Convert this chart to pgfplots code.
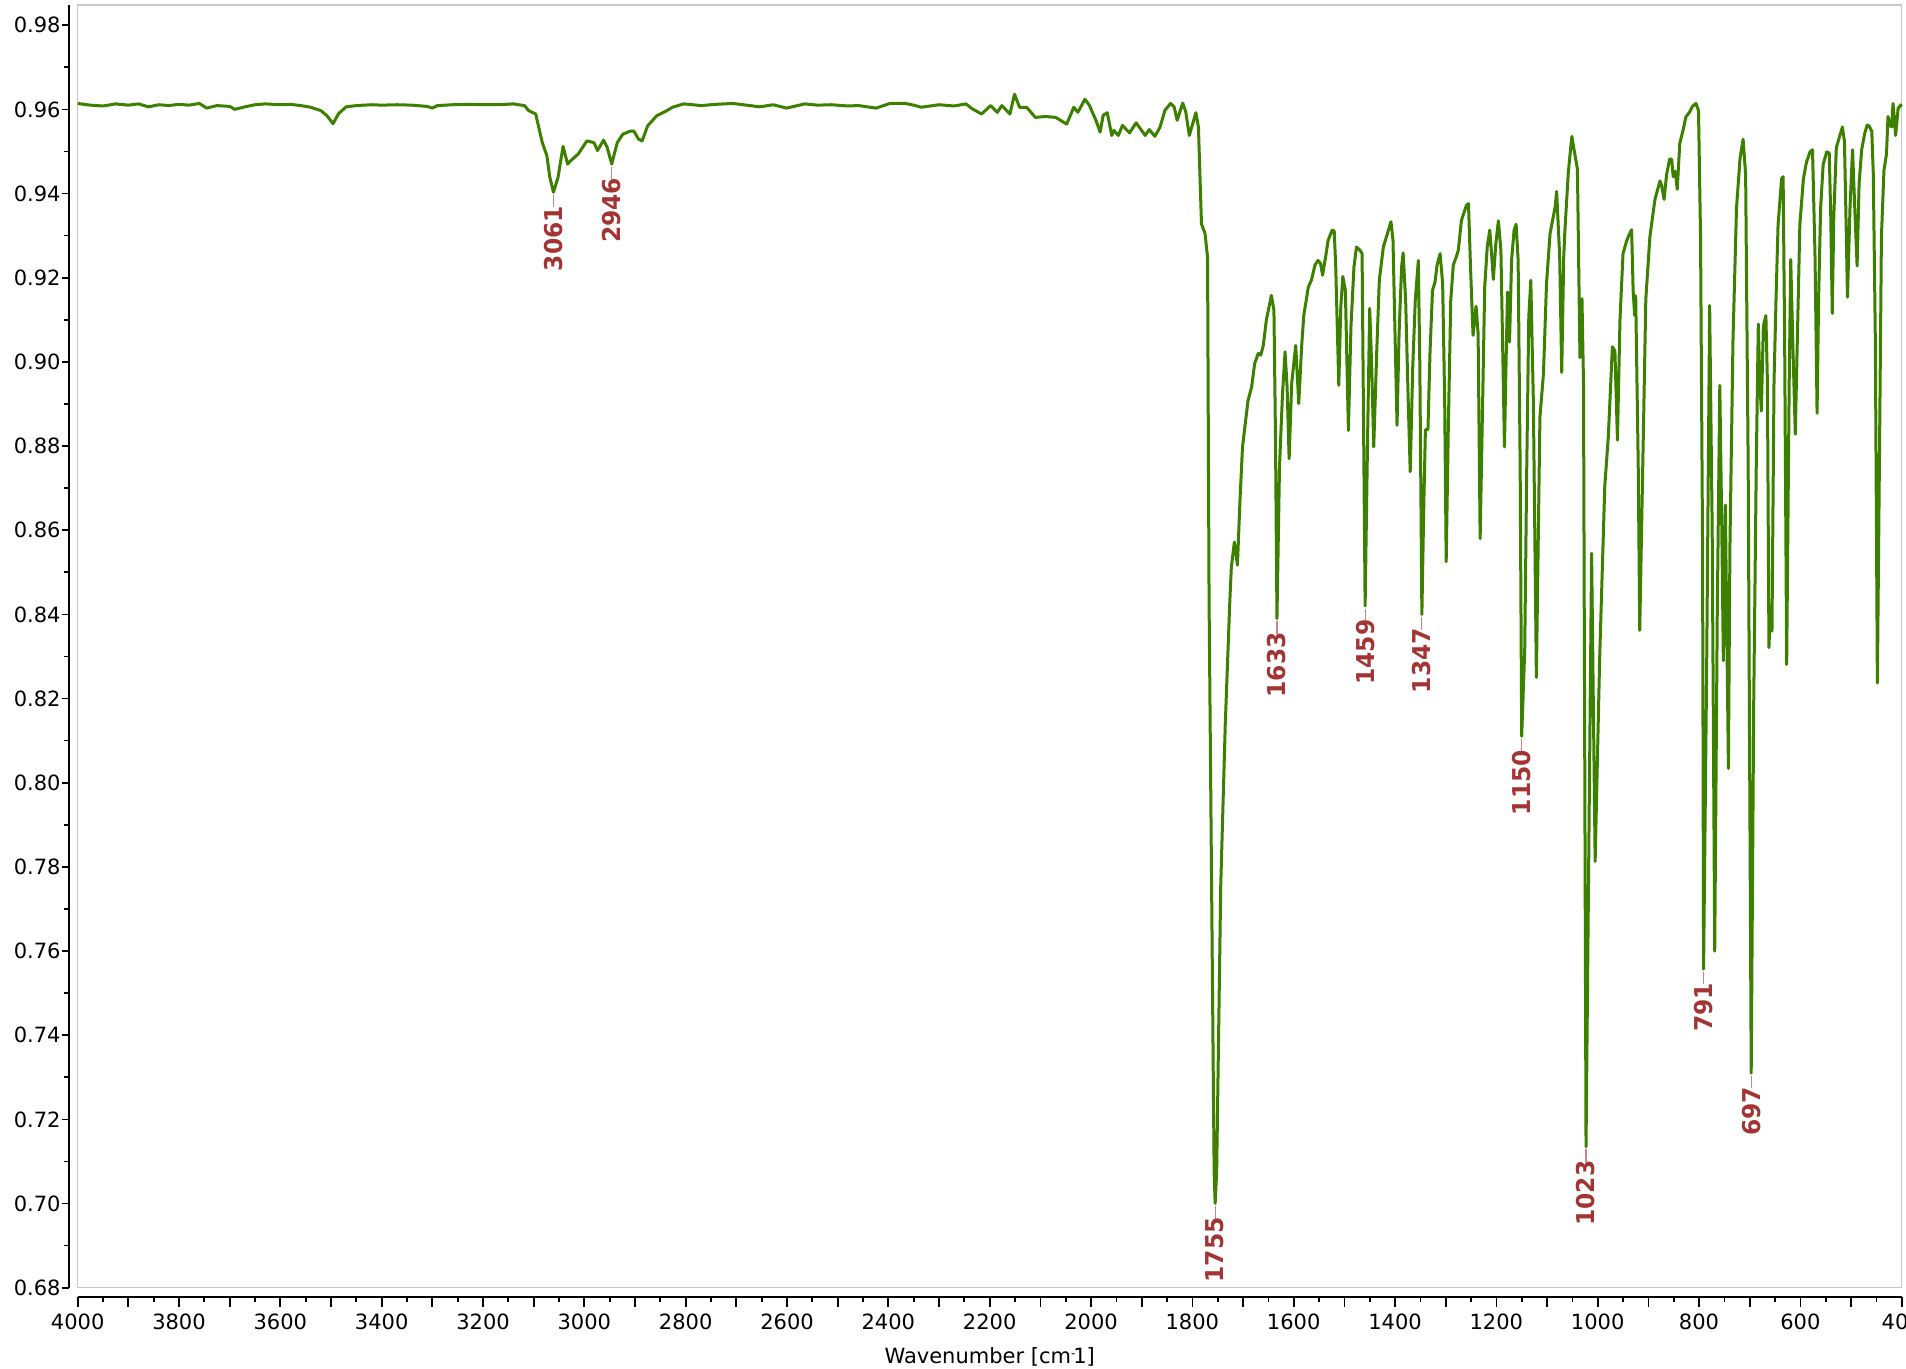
\documentclass[border=0pt]{standalone}
\usepackage{fontspec}
\setmainfont{DejaVu Sans}
\newfontfamily\peakfont[FakeStretch=0.95]{DejaVu Sans}
\usepackage{pgfplots}
\pgfplotsset{compat=1.18}

\definecolor{irgreen}{RGB}{60,128,0}
\definecolor{peakred}{RGB}{163,52,52}
\definecolor{framegray}{RGB}{200,200,200}

% short connector from a peak down to its label
\pgfdeclareplotmark{peaktick}{%
  \pgfpathmoveto{\pgfqpoint{0pt}{-1.3pt}}%
  \pgfpathlineto{\pgfqpoint{0pt}{-7.6pt}}%
  \pgfusepathqstroke}

\pgfplotstableread{
wn T
4000 0.9614
3975 0.9610
3950 0.9608
3925 0.9613
3900 0.9610
3880 0.9613
3860 0.9606
3840 0.9611
3820 0.9609
3800 0.9612
3780 0.9610
3760 0.9614
3745 0.9603
3725 0.9609
3700 0.9607
3690 0.9600
3670 0.9606
3650 0.9611
3630 0.9613
3600 0.9611
3580 0.9612
3560 0.9609
3540 0.9605
3520 0.9597
3508 0.9585
3496 0.9566
3485 0.9590
3470 0.9606
3450 0.9609
3420 0.9611
3400 0.9610
3370 0.9611
3340 0.9610
3310 0.9607
3300 0.9603
3290 0.9609
3260 0.9611
3230 0.9612
3200 0.9611
3167 0.9611
3141 0.9613
3118 0.9609
3110 0.9597
3096 0.9589
3083 0.9521
3074 0.9490
3068 0.9438
3061 0.9403
3052 0.9438
3042 0.9512
3033 0.9470
3026 0.9479
3012 0.9494
2995 0.9525
2981 0.9521
2974 0.9502
2962 0.9527
2955 0.9510
2946 0.9470
2935 0.9521
2924 0.9541
2910 0.9548
2902 0.9548
2893 0.9529
2886 0.9525
2875 0.9561
2857 0.9585
2840 0.9595
2826 0.9605
2804 0.9613
2769 0.9609
2740 0.9612
2707 0.9614
2680 0.9610
2654 0.9606
2627 0.9611
2601 0.9603
2565 0.9613
2540 0.9610
2512 0.9611
2480 0.9608
2459 0.9609
2424 0.9603
2397 0.9614
2366 0.9614
2350 0.9610
2335 0.9605
2300 0.9611
2270 0.9608
2247 0.9613
2234 0.9601
2216 0.9589
2198 0.9609
2185 0.9593
2176 0.9609
2160 0.9589
2151 0.9636
2141 0.9605
2127 0.9605
2110 0.9581
2090 0.9583
2070 0.9581
2048 0.9565
2034 0.9605
2026 0.9593
2012 0.9624
2003 0.9609
1990 0.9573
1982 0.9546
1976 0.9586
1968 0.9592
1959 0.9538
1955 0.9550
1946 0.9538
1938 0.9562
1924 0.9544
1911 0.9568
1893 0.9538
1885 0.9552
1874 0.9536
1864 0.9557
1854 0.9598
1843 0.9614
1836 0.9606
1830 0.9574
1819 0.9615
1813 0.9594
1806 0.9538
1793 0.9592
1788 0.9558
1782 0.9328
1775 0.9305
1770 0.9249
1767 0.8433
1762 0.7754
1757 0.7076
1755 0.7000
1752 0.7076
1744 0.7754
1735 0.8140
1726 0.8433
1723 0.8513
1717 0.8572
1711 0.8517
1706 0.8671
1701 0.8798
1694 0.8869
1690 0.8909
1683 0.8940
1677 0.8996
1670 0.9020
1665 0.9016
1660 0.9039
1654 0.9099
1644 0.9158
1639 0.9123
1636 0.8830
1633 0.8390
1628 0.8750
1622 0.8925
1617 0.9024
1613 0.8940
1609 0.8770
1604 0.8948
1596 0.9039
1590 0.8901
1584 0.9043
1580 0.9111
1571 0.9178
1565 0.9194
1558 0.9230
1552 0.9241
1547 0.9234
1543 0.9206
1536 0.9257
1532 0.9289
1524 0.9313
1520 0.9311
1517 0.9226
1511 0.8944
1507 0.9131
1503 0.9203
1498 0.9170
1492 0.8837
1487 0.9083
1481 0.9226
1476 0.9273
1469 0.9265
1465 0.9257
1459 0.8420
1454 0.8830
1450 0.9127
1446 0.8988
1442 0.8798
1436 0.9028
1431 0.9194
1423 0.9273
1415 0.9305
1408 0.9333
1404 0.9289
1400 0.9067
1396 0.8849
1392 0.9067
1387 0.9226
1384 0.9259
1379 0.9146
1374 0.8909
1370 0.8739
1365 0.8988
1360 0.9146
1354 0.9241
1351 0.8988
1347 0.8400
1343 0.8671
1340 0.8839
1335 0.8839
1331 0.9020
1326 0.9170
1321 0.9190
1317 0.9230
1311 0.9257
1306 0.9186
1302 0.8909
1299 0.8525
1295 0.8830
1290 0.9146
1285 0.9230
1279 0.9250
1275 0.9265
1269 0.9336
1259 0.9372
1255 0.9376
1251 0.9226
1246 0.9063
1240 0.9132
1236 0.9067
1232 0.8580
1227 0.8909
1223 0.9178
1218 0.9273
1213 0.9313
1209 0.9250
1206 0.9196
1201 0.9281
1196 0.9335
1191 0.9265
1188 0.9067
1184 0.8798
1181 0.8988
1178 0.9166
1176 0.9067
1174 0.9047
1170 0.9241
1165 0.9313
1161 0.9327
1157 0.9241
1153 0.8750
1150 0.8110
1144 0.8315
1140 0.8750
1136 0.9107
1132 0.9194
1127 0.8909
1121 0.8250
1114 0.8869
1107 0.8972
1101 0.9186
1094 0.9305
1084 0.9368
1081 0.9405
1075 0.9250
1071 0.8975
1067 0.9250
1065 0.9305
1058 0.9450
1051 0.9536
1046 0.9500
1040 0.9458
1035 0.9010
1031 0.9150
1028 0.8950
1023 0.7135
1012 0.8545
1005 0.7813
996 0.8300
986 0.8705
979 0.8823
971 0.9036
966 0.9026
961 0.8814
956 0.9100
950 0.9257
943 0.9287
938 0.9302
933 0.9314
930 0.9168
927 0.9110
925 0.9157
920 0.8755
917 0.8362
911 0.8755
905 0.9149
897 0.9297
887 0.9386
877 0.9430
874 0.9420
869 0.9386
864 0.9445
858 0.9482
854 0.9482
851 0.9440
847 0.9453
843 0.9410
838 0.9519
831 0.9553
826 0.9582
819 0.9593
813 0.9607
806 0.9614
801 0.9597
797 0.9297
793 0.8557
791 0.7557
785 0.8261
779 0.9134
774 0.8600
769 0.7600
764 0.8400
759 0.8944
755 0.8600
752 0.8290
748 0.8660
742 0.8034
739 0.8560
733 0.9050
726 0.9366
719 0.9484
713 0.9529
708 0.9445
703 0.8755
697 0.7310
692 0.8195
687 0.8755
683 0.9090
680 0.8952
677 0.8883
673 0.9085
668 0.9110
665 0.8952
662 0.8321
659 0.8419
656 0.8360
652 0.8952
648 0.9149
644 0.9326
637 0.9435
634 0.9440
631 0.9050
627 0.8281
622 0.8952
619 0.9243
615 0.9050
610 0.8828
606 0.9050
601 0.9326
594 0.9435
588 0.9474
581 0.9499
576 0.9504
571 0.9248
567 0.8878
564 0.9149
560 0.9366
555 0.9469
548 0.9499
543 0.9496
540 0.9346
537 0.9115
534 0.9346
529 0.9509
522 0.9538
517 0.9558
513 0.9524
510 0.9346
507 0.9154
502 0.9366
497 0.9504
492 0.9346
488 0.9228
484 0.9425
479 0.9504
473 0.9543
468 0.9563
464 0.9560
459 0.9548
456 0.9445
452 0.9050
448 0.8237
444 0.8755
440 0.9297
435 0.9455
430 0.9494
427 0.9583
423 0.9563
420 0.9558
417 0.9614
412 0.9538
407 0.9603
400 0.9612
}\spectrum

\pgfplotstableread{
wn T lab
3061 0.9403 3061
2946 0.9470 2946
1755 0.7000 1755
1633 0.8390 1633
1459 0.8420 1459
1347 0.8400 1347
1150 0.8110 1150
1023 0.7135 1023
791 0.7557 791
697 0.7310 697
}\peaks

\pgfplotsset{
  irbase/.style={
    width=912pt, height=641.35pt, scale only axis,
    x dir=reverse, xmin=400, xmax=4000, ymin=0.68, ymax=0.9848,
    tick label style={font=\fontsize{10.5}{12}\selectfont},
    label style={font=\fontsize{10.5}{12}\selectfont},
    /pgf/number format/assume math mode=true,
  },
}

\begin{document}
\begin{tikzpicture}
% plot area: light frame, spectrum and peak labels
\begin{axis}[irbase, xtick=\empty, ytick=\empty, clip=false,
    axis line style={framegray, line width=0.75pt}]
\addplot[irgreen, line width=1.5pt, line join=round] table[x=wn, y=T] {\spectrum};
\addplot[only marks, mark=peaktick,
    mark options={draw=peakred!60, line width=0.6pt},
    point meta=explicit symbolic, nodes near coords,
    every node near coord/.append style={rotate=90, anchor=east,
      inner xsep=6.6pt, inner ysep=0pt, text=peakred,
      font=\peakfont\bfseries\fontsize{12.3}{14}\selectfont}]
    table[x=wn, y=T, meta=lab] {\peaks};
\coordinate (bl) at (rel axis cs:0,0);
\coordinate (tr) at (rel axis cs:1,1);
\end{axis}
% detached x axis
\begin{axis}[irbase, at={(0pt,-4.5pt)}, hide y axis, axis x line*=bottom,
    x axis line style={-, line width=0.85pt},
    tick align=outside, major tick length=5pt, minor tick length=2.5pt,
    tick style={black, line width=0.85pt},
    xtick={400,600,...,4000},
    extra x ticks={500,700,...,3900}, extra x tick labels={},
    minor xtick={450,550,...,3950},
    xticklabel style={/pgf/number format/1000 sep={}},
    xlabel style={yshift=8pt},
    xlabel={Wavenumber [cm\raisebox{0.5ex}{\fontsize{6}{6}\selectfont -}\kern-0.1em 1]}]
\end{axis}
% detached y axis
\begin{axis}[irbase, at={(-4.35pt,0pt)}, hide x axis, axis y line*=left,
    y axis line style={-, line width=0.85pt},
    tick align=outside, major tick length=3.65pt, minor tick length=2.35pt,
    tick style={black, line width=0.85pt},
    ytick={0.68,0.70,0.72,0.74,0.76,0.78,0.80,0.82,0.84,0.86,0.88,0.90,0.92,0.94,0.96,0.98},
    minor y tick num=1,
    yticklabel style={xshift=3pt, /pgf/number format/.cd, fixed, fixed zerofill, precision=2}]
\end{axis}
\pgfresetboundingbox
\path[use as bounding box] ([shift={(-38.85pt,-40.15pt)}]bl) rectangle ([shift={(2.15pt,2.5pt)}]tr);
\end{tikzpicture}
\end{document}
